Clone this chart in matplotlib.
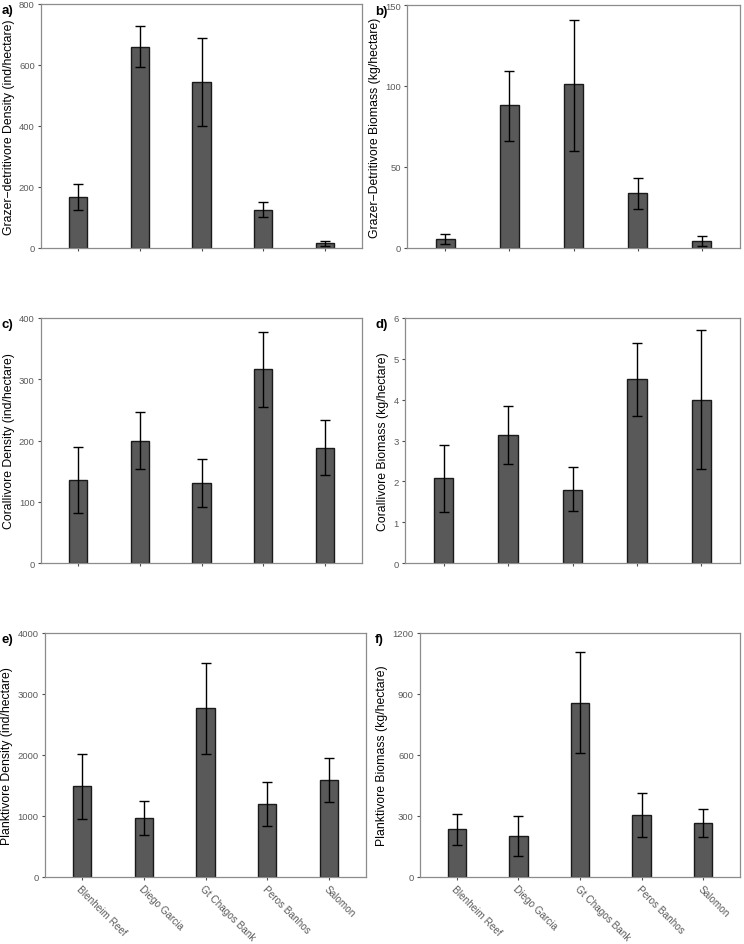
import matplotlib
matplotlib.use('Agg')
import matplotlib.pyplot as plt
import numpy as np

plt.rcParams['font.family'] = ['Liberation Sans', 'DejaVu Sans']

sites = ['Blenheim Reef', 'Diego Garcia', 'Gt Chagos Bank', 'Peros Banhos', 'Salomon']

# mean, lower, upper for each panel
graz_dens = [168, 660, 545, 125, 15]
graz_dens_lo = [125, 592, 400, 102, 8]
graz_dens_hi = [210, 727, 688, 150, 22]

graz_bio = [5.5, 88, 101, 34, 4.5]
graz_bio_lo = [2.5, 66, 60, 24, 1.5]
graz_bio_hi = [8.5, 109, 141, 43.5, 7.5]

cor_dens = [136, 200, 130, 316, 188]
cor_dens_lo = [82, 153, 91, 255, 144]
cor_dens_hi = [189, 246, 170, 377, 233]

cor_bio = [2.07, 3.13, 1.8, 4.5, 4.0]
cor_bio_lo = [1.25, 2.42, 1.27, 3.6, 2.3]
cor_bio_hi = [2.88, 3.84, 2.35, 5.4, 5.7]

plank_dens = [1484, 971, 2767, 1200, 1583]
plank_dens_lo = [950, 693, 2014, 835, 1222]
plank_dens_hi = [2019, 1244, 3515, 1561, 1943]

plank_bio = [237, 203, 858, 304, 264]
plank_bio_lo = [159, 105, 609, 198, 195]
plank_bio_hi = [311, 300, 1108, 411, 332]

W, H = 744, 945
fig = plt.figure(figsize=(W / 100, H / 100), dpi=100)


def px_axes(l, t, r, b):
    return fig.add_axes([l / W, 1 - b / H, (r - l) / W, (b - t) / H])


# label, axes box (px: left, top, right, bottom), label x px, data, ylabel, ymax, ticks
panels = [
    ('a)', (41, 5, 362, 249), 2, graz_dens, graz_dens_lo, graz_dens_hi,
     'Grazer\u2212detritivore Density (ind/hectare)', 800, [0, 200, 400, 600, 800]),
    ('b)', (407, 6, 740, 249), 375, graz_bio, graz_bio_lo, graz_bio_hi,
     'Grazer\u2212Detritivore Biomass (kg/hectare)', 150, [0, 50, 100, 150]),
    ('c)', (41, 319, 362, 564), 2, cor_dens, cor_dens_lo, cor_dens_hi,
     'Corallivore Density (ind/hectare)', 400, [0, 100, 200, 300, 400]),
    ('d)', (405, 319, 740, 564), 375, cor_bio, cor_bio_lo, cor_bio_hi,
     'Corallivore Biomass (kg/hectare)', 6, [0, 1, 2, 3, 4, 5, 6]),
    ('e)', (45, 634, 366, 878), 2, plank_dens, plank_dens_lo, plank_dens_hi,
     'Planktivore Density (ind/hectare)', 4000, [0, 1000, 2000, 3000, 4000]),
    ('f)', (420, 634, 740, 878), 375, plank_bio, plank_bio_lo, plank_bio_hi,
     'Planktivore Biomass (kg/hectare)', 1200, [0, 300, 600, 900, 1200]),
]

x = np.arange(len(sites))
for i, (lab, box, lx, vals, lo, hi, ylab, ymax, yt) in enumerate(panels):
    ax = px_axes(*box)
    vals = np.array(vals)
    err = [vals - np.array(lo), np.array(hi) - vals]
    ax.bar(x, vals, width=0.3, color='#595959', edgecolor='#1a1a1a', linewidth=1.0, zorder=2)
    ax.errorbar(x, vals, yerr=err, fmt='none', ecolor='black', elinewidth=1.0,
                capsize=3.5, capthick=1.0, zorder=3)
    ax.set_xlim(-0.6, 4.6)
    ax.set_ylim(0, ymax)
    ax.set_yticks(yt)
    ax.set_xticks(x)
    for s in ax.spines.values():
        s.set_color('#8c8c8c')
        s.set_linewidth(0.9)
    ax.tick_params(axis='both', colors='#4d4d4d', labelcolor='#5a5a5a', labelsize=6.8,
                   length=2.5, width=0.8, pad=2)
    ax.set_ylabel(ylab, fontsize=8.8, color='black', labelpad=3)
    if i >= 4:
        ax.set_xticklabels(sites, rotation=-45, ha='left', rotation_mode='anchor',
                           fontsize=7.2, color='#5a5a5a')
    else:
        ax.set_xticklabels([])
    fig.text(lx / W, 1 - (box[1] + 6) / H, lab, fontsize=9.5, fontweight='bold',
             va='center', ha='left')

fig.savefig('out.png', dpi=100)
